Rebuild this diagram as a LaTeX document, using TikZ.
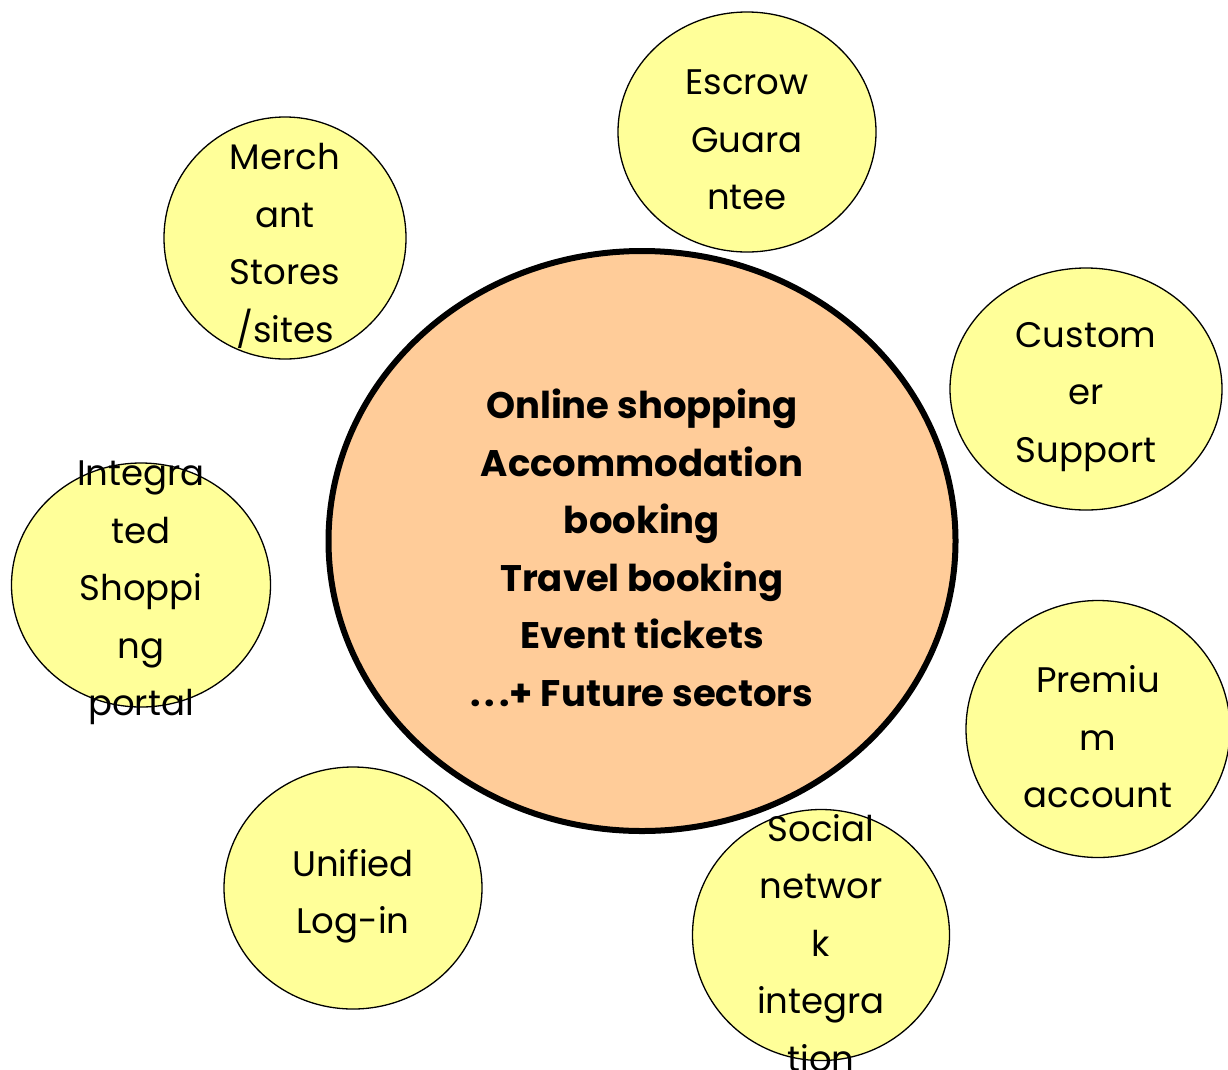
\documentclass[tikz,border=0pt]{standalone}
\usepackage{fontspec}
\setmainfont{Poppins}
\usetikzlibrary{shapes.geometric}
\definecolor{hubfill}{HTML}{FFCC99}
\definecolor{bubfill}{HTML}{FFFF99}
\tikzset{
        hub/.style={ellipse, draw=black, line width=6pt, fill=hubfill,
        minimum width=627pt, minimum height=580pt, inner sep=0pt},
        bubble/.style 2 args={ellipse, draw=black, line width=1.3pt, fill=bubfill,
        minimum width=#1pt, minimum height=#2pt, inner sep=0pt},
        bubtext/.style={align=center, font=\fontsize{35.5}{57.5}\selectfont, inner sep=0pt}
    }
\begin{document}
\begin{tikzpicture}[x=1pt, y=-1pt]
\useasboundingbox (0,0) rectangle (1228,1069);
% centre
\node[hub] (core) at (642,541) {};
\node[bubtext, font=\bfseries\fontsize{37}{57.5}\selectfont] (coretext) at (642,548)
  {Online shopping\\Accommodation\\booking\\Travel booking\\Event tickets\\.\kern4pt.\kern4pt.+ Future sectors};
% bubbles round it, text is allowed to run over the rim
\node[bubble={258}{240}] (escrow)  at (747,132) {};
\node[bubble={242}{242}] (merch)   at (285,238) {};
\node[bubble={272}{242}] (support) at (1086,389) {};
\node[bubble={264}{257}] (premium) at (1098,729) {};
\node[bubble={257}{251}] (social)  at (821,935) {};
\node[bubble={258}{242}] (login)   at (353,888) {};
\node[bubble={259}{244}] (portal)  at (141,585) {};
\node[bubtext] (escrowtext)  at ([yshift=-8pt]escrow)  {Escrow\\Guara\\ntee};
\node[bubtext] (merchtext)   at ([yshift=-8pt]merch)   {Merch\\ant\\Stores\\/sites};
\node[bubtext] (supporttext) at ([yshift=-8pt]support) {Custom\\er\\Support};
\node[bubtext] (premiumtext) at ([yshift=-8pt]premium) {Premiu\\m\\account};
\node[bubtext] (socialtext)  at ([yshift=-8pt]social)  {Social\\networ\\k\\integra\\tion};
\node[bubtext] (logintext)   at ([yshift=-8pt]login)   {Unified\\Log-in};
\node[bubtext] (portaltext)  at ([yshift=-8pt]portal)  {Integra\\ted\\Shoppi\\ng\\portal};
\end{tikzpicture}
\end{document}
